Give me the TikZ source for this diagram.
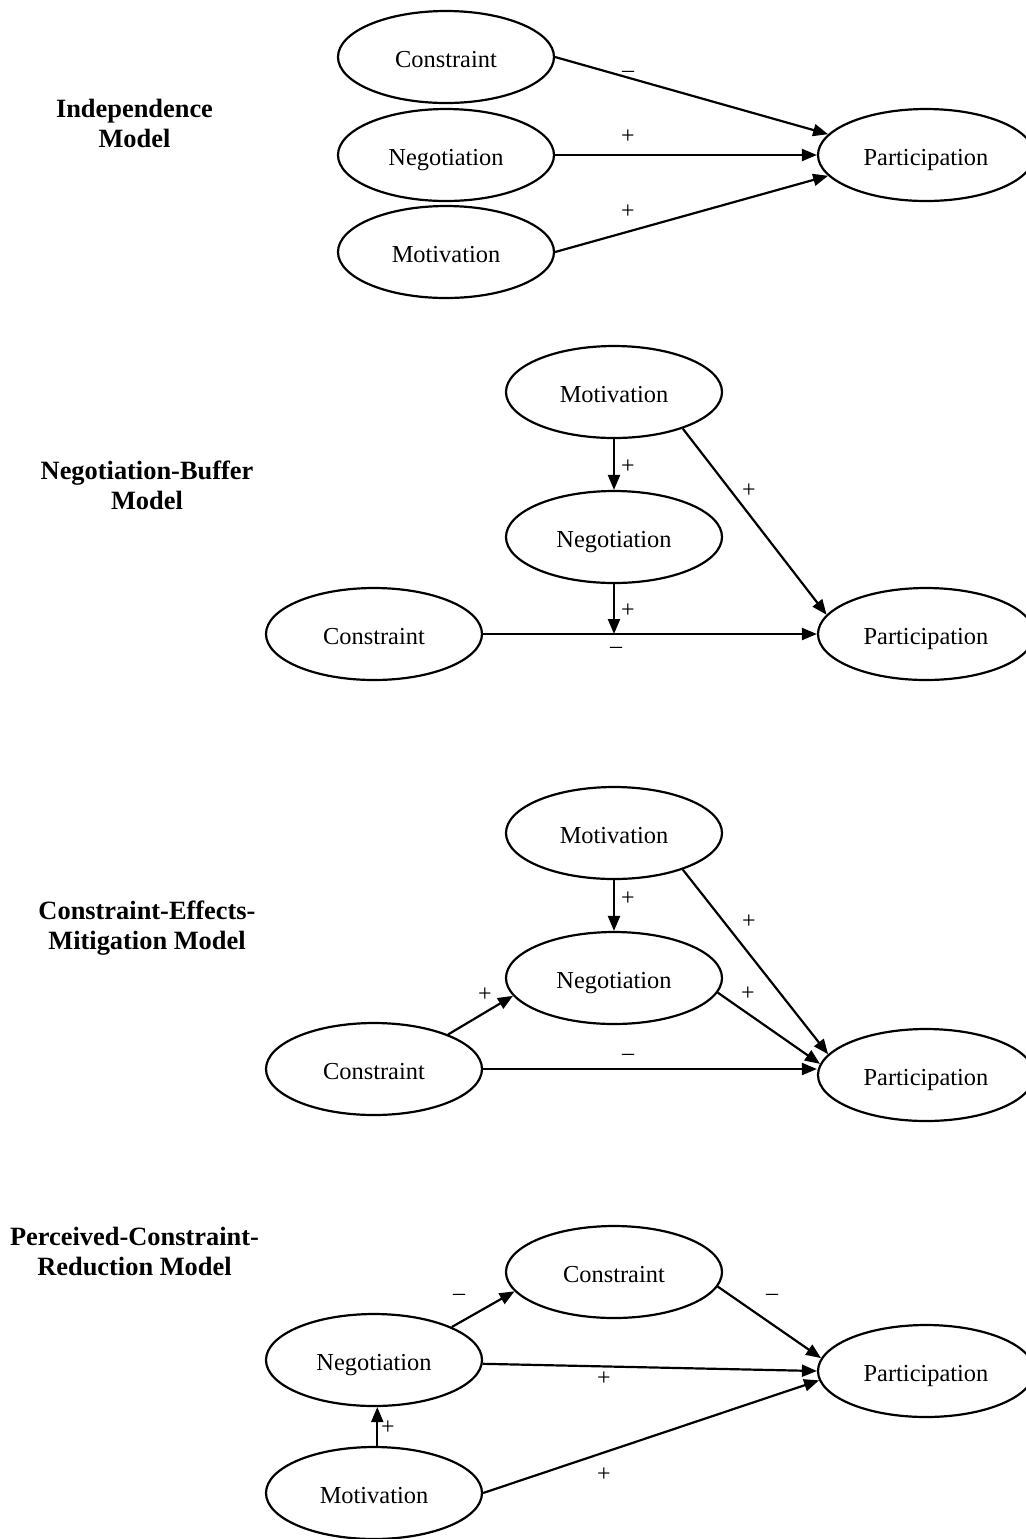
\documentclass[tikz,border=0pt]{standalone}
\usepackage{fontspec}
\setmainfont{Liberation Serif}
\usetikzlibrary{shapes.geometric,arrows.meta}
\begin{document}
\begin{tikzpicture}[x=0.5pt,y=-0.5pt,
  var/.style={ellipse,draw,line width=1.1pt,minimum width=108pt,minimum height=46pt,
    inner sep=0pt,font=\fontsize{12.2}{14}\selectfont,text height=10pt,text depth=0pt},
  edge/.style={line width=1.1pt,-{Triangle[length=7.5pt,width=6pt]}},
  sign/.style={font=\fontsize{12}{14}\selectfont,inner sep=0pt},
  title/.style={font=\fontsize{13.2}{15}\selectfont\bfseries,inner sep=0pt,anchor=base}]
\useasboundingbox (0,0) rectangle (1026,1539);

% ---------- Independence Model ----------
\node[title] (t1a) at (134.5,117) {Independence};
\node[title] (t1b) at (134.5,147) {Model};
\node[var] (c1) at (446,57) {Constraint};
\node[var] (n1) at (446,155) {Negotiation};
\node[var] (m1) at (446,252) {Motivation};
\node[var] (p1) at (926,155) {Participation};
\draw[edge] (c1.east) -- (p1.168);
\draw[edge] (n1.east) -- (p1.west);
\draw[edge] (m1.east) -- (p1.192);
\node[sign] (s1a) at (628,74) {–};
\node[sign] (s1b) at (628,137) {+};
\node[sign] (s1c) at (628,212) {+};

% ---------- Negotiation-Buffer Model ----------
\node[title] (t2a) at (147,479) {Negotiation-Buffer};
\node[title] (t2b) at (147,509) {Model};
\node[var] (m2) at (614,392) {Motivation};
\node[var] (n2) at (614,537) {Negotiation};
\node[var] (c2) at (374,634) {Constraint};
\node[var] (p2) at (926,634) {Participation};
\coordinate (j2) at (n2.south |- c2.east);
\draw[edge] (m2.south) -- (n2.north);
\draw[edge] (m2.-28) -- (p2.169);
\draw[edge] (n2.south) -- (j2);
\draw[edge] (c2.east) -- (p2.west);
\node[sign] (s2a) at (628,467) {+};
\node[sign] (s2b) at (749,491) {+};
\node[sign] (s2c) at (628,611) {+};
\node[sign] (s2d) at (616,650) {–};

% ---------- Constraint-Effects-Mitigation Model ----------
\node[title] (t3a) at (147,919) {Constraint-Effects-};
\node[title] (t3b) at (147,949) {Mitigation Model};
\node[var] (m3) at (614,833) {Motivation};
\node[var] (n3) at (614,978) {Negotiation};
\node[var] (c3) at (374,1069) {Constraint};
\node[var] (p3) at (926,1075) {Participation};
\draw[edge] (m3.south) -- (n3.north);
\draw[edge] (m3.-28) -- (p3.168);
\draw[edge] (n3.-8) -- (p3.174);
\draw[edge] (c3.25) -- (n3.190);
\draw[edge] (c3.east) -- (c3.east -| p3.west);
\node[sign] (s3a) at (628,899) {+};
\node[sign] (s3b) at (749,922) {+};
\node[sign] (s3c) at (748,994) {+};
\node[sign] (s3d) at (485,995) {+};
\node[sign] (s3e) at (628,1057) {–};

% ---------- Perceived-Constraint-Reduction Model ----------
\node[title] (t4a) at (134.5,1245) {Perceived-Constraint-};
\node[title] (t4b) at (134.5,1275) {Reduction Model};
\node[var] (c4) at (614,1272) {Constraint};
\node[var] (n4) at (374,1360) {Negotiation};
\node[var] (m4) at (374,1493) {Motivation};
\node[var] (p4) at (926,1371) {Participation};
\draw[edge] (n4.23) -- (c4.191);
\draw[edge] (c4.-8) -- (p4.173);
\draw[edge] (n4.-2) -- (p4.west);
\draw[edge] (m4.east) -- (p4.185);
\draw[edge] (m4.86) -- (n4.-86);
\node[sign] (s4a) at (459,1297) {–};
\node[sign] (s4b) at (772,1297) {–};
\node[sign] (s4c) at (604,1379) {+};
\node[sign] (s4d) at (604,1475) {+};
\node[sign] (s4e) at (388,1428) {+};
\end{tikzpicture}
\end{document}
